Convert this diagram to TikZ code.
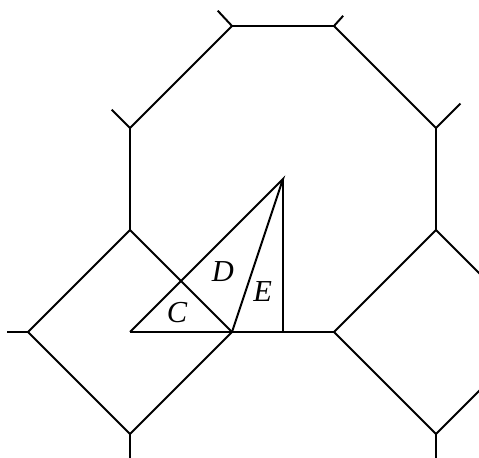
\documentclass[tikz,border=0pt]{standalone}
\usepackage{fontspec}
\setmainfont{Liberation Serif}
\begin{document}
\begin{tikzpicture}[x=2cm,y=2cm,line width=1.1pt,line join=miter,
  edge/.style={draw=black},
  lbl/.style={font=\fontsize{17}{17}\selectfont\itshape,inner sep=0pt}]
\useasboundingbox (-0.2745,-1.2353) rectangle (4.4216,3.2549);
\clip (-0.2745,-1.2353) rectangle (4.4216,3.2549);
% octagon vertices
\coordinate (o1) at (2,0); \coordinate (o2) at (3,0);
\coordinate (o3) at (4,1); \coordinate (o4) at (4,2);
\coordinate (o5) at (3,3); \coordinate (o6) at (2,3);
\coordinate (o7) at (1,2); \coordinate (o8) at (1,1);
% left square
\coordinate (l1) at (0,0); \coordinate (l2) at (1,-1);
% right square
\coordinate (r1) at (5,0); \coordinate (r2) at (4,-1);
% stub ends
\coordinate (s6) at (1.86,3.15); \coordinate (s5) at (3.09,3.10);
\coordinate (s7) at (0.82,2.18); \coordinate (s4) at (4.24,2.24);
\coordinate (sl) at (-0.21,0); \coordinate (sb1) at (1,-1.5); \coordinate (sb2) at (4,-1.5);
% centres
\coordinate (c) at (2.5,1.5); \coordinate (m) at (2.5,0); \coordinate (q) at (1,0);
\draw[edge] (o1) -- (o2) -- (o3) -- (o4) -- (o5) -- (o6) -- (o7) -- (o8) -- cycle;
\draw[edge] (o8) -- (l1) -- (l2) -- (o1);
\draw[edge] (o3) -- (r1) -- (r2) -- (o2);
\draw[edge] (o6) -- (s6); \draw[edge] (o5) -- (s5);
\draw[edge] (o7) -- (s7); \draw[edge] (o4) -- (s4);
\draw[edge] (l1) -- (sl); \draw[edge] (l2) -- (sb1); \draw[edge] (r2) -- (sb2);
\draw[edge] (q) -- (c) -- (o1); \draw[edge] (q) -- (o1); \draw[edge] (c) -- (m);
\node[lbl] (C) at (1.46,0.19) {C};
\node[lbl] (D) at (1.91,0.59) {D};
\node[lbl] (E) at (2.30,0.40) {E};
\end{tikzpicture}
\end{document}
